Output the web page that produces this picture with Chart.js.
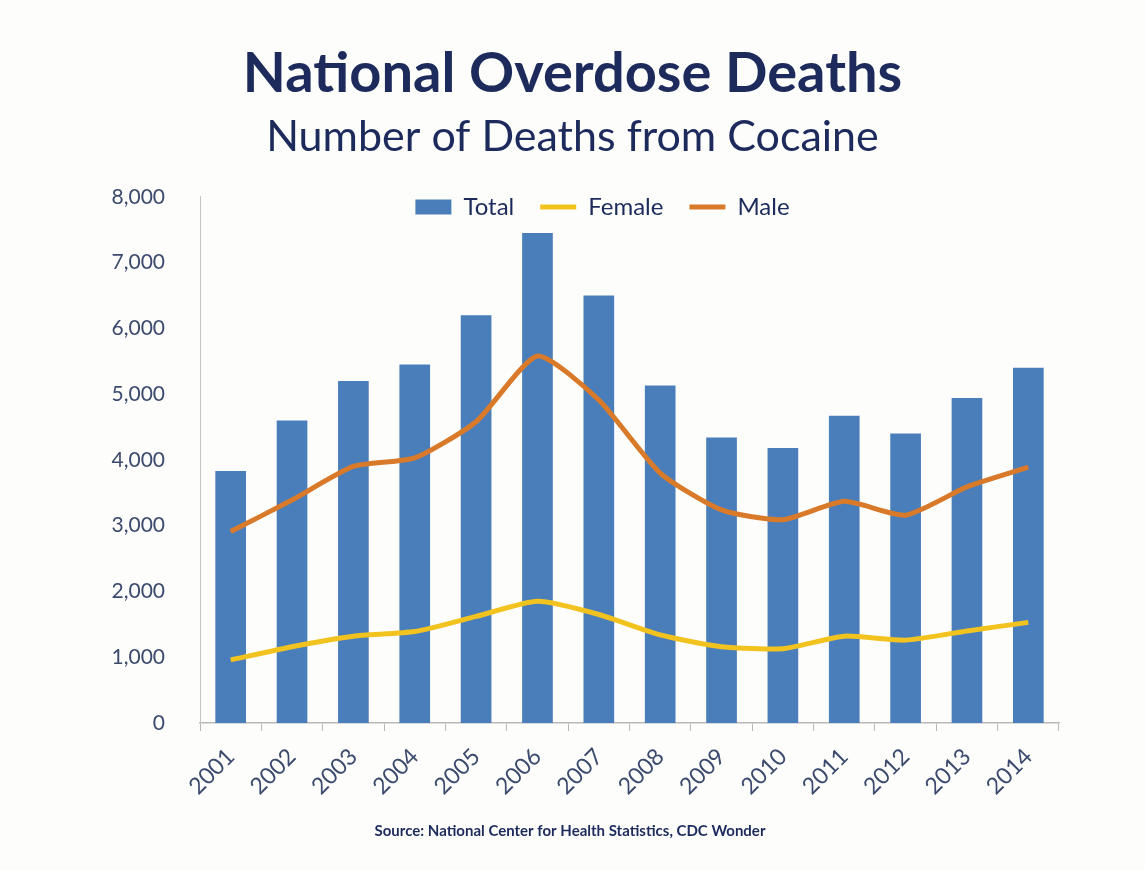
<!DOCTYPE html>
<html>
<head>
<meta charset="utf-8">
<script src="https://cdn.jsdelivr.net/npm/chart.js@4"></script>
<style>
  html, body { margin: 0; padding: 0; background: #fdfefc; }
  #wrap { width: 1145px; height: 870px; position: relative; }
</style>
</head>
<body>
<div id="wrap"><canvas id="chart"></canvas></div>
<script>
// data
const years = ["2001", "2002", "2003", "2004", "2005", "2006", "2007", "2008", "2009", "2010", "2011", "2012", "2013", "2014"];
const total = [3830, 4600, 5200, 5450, 6200, 7450, 6500, 5130, 4340, 4180, 4670, 4400, 4940, 5400];
const female = [960, 1160, 1320, 1390, 1620, 1850, 1650, 1340, 1160, 1130, 1320, 1260, 1400, 1530];
const male = [2910, 3390, 3900, 4030, 4580, 5580, 4910, 3800, 3240, 3090, 3370, 3160, 3590, 3890];
const yTicks = [0, 1000, 2000, 3000, 4000, 5000, 6000, 7000, 8000];
const sourceText = "Source: National Center for Health Statistics, CDC Wonder";

const navy = "#1c2a5c";
const tickColor = "#3c4a6e";

// teks sumber di bawah grafik
const sourcePlugin = {
  id: "sourceNote",
  afterDraw(chart) {
    const c = chart.ctx;
    c.save();
    c.font = "bold 15px Lato";
    c.fillStyle = navy;
    c.textAlign = "center";
    c.textBaseline = "middle";
    c.fillText(sourceText, 570, 831);
    c.restore();
  },
};

// legenda ditaruh di dalam area plot, seperti aslinya
const legendInside = {
  id: "legendInside",
  afterLayout(chart) {
    const lg = chart.legend;
    if (!lg) return;
    const pad = lg.options.labels.padding;
    lg.top = 207 - pad - 12;
    lg.height = 70;
    lg.bottom = lg.top + lg.height;
    lg.left += 30;
    lg.right += 30;
  },
};

const ctx = document.getElementById("chart").getContext("2d");
new Chart(ctx, {
  type: "bar",
  data: {
    labels: years,
    datasets: [
      {
        label: "Total",
        data: total,
        backgroundColor: "#4a7ebb",
        borderWidth: 0,
        barPercentage: 0.5,
        categoryPercentage: 1,
        pointStyle: "rect",
        order: 3,
      },
      {
        type: "line",
        label: "Female",
        data: female,
        borderColor: "#f2c31e",
        backgroundColor: "#f2c31e",
        borderWidth: 5,
        pointRadius: 0,
        tension: 0.2,
        pointStyle: "line",
        order: 2,
      },
      {
        type: "line",
        label: "Male",
        data: male,
        borderColor: "#d97a2a",
        backgroundColor: "#d97a2a",
        borderWidth: 5,
        pointRadius: 0,
        tension: 0.2,
        pointStyle: "line",
        order: 1,
      },
    ],
  },
  options: {
    responsive: true,
    maintainAspectRatio: false,
    animation: false,
    layout: { padding: { top: 40, right: 86, bottom: 0, left: 86 } },
    plugins: {
      title: {
        display: true,
        text: "National Overdose Deaths",
        color: navy,
        font: { family: "Lato", size: 56, weight: "bold" },
        padding: { top: 0, bottom: 4 },
      },
      subtitle: {
        display: true,
        text: "Number of Deaths from Cocaine",
        color: navy,
        font: { family: "Lato", size: 43 },
        padding: { top: 0, bottom: 33 },
      },
      legend: {
        position: "top",
        align: "center",
        maxHeight: 1,
        labels: {
          usePointStyle: true,
          pointStyleWidth: 36,
          boxHeight: 15,
          padding: 26,
          color: navy,
          font: { family: "Lato", size: 24 },
          sort: (a, b) => a.datasetIndex - b.datasetIndex,
        },
      },
      tooltip: { enabled: false },
    },
    scales: {
      x: {
        grid: {
          drawOnChartArea: false,
          drawTicks: true,
          tickLength: 8,
          color: "#b8b8b8",
        },
        border: { color: "#b8b8b8", width: 1.5 },
        ticks: {
          color: tickColor,
          font: { family: "Lato", size: 23 },
          minRotation: 45,
          maxRotation: 45,
          padding: 12,
        },
        afterFit: (scale) => { scale.height = 147; },
      },
      y: {
        min: 0,
        max: 8000,
        grid: { display: false },
        border: { color: "#c4c4c4", dash: [2, 2] },
        afterBuildTicks: (scale) => { scale.ticks = yTicks.map((v) => ({ value: v })); },
        ticks: {
          color: tickColor,
          font: { family: "Lato", size: 21 },
          padding: 27,
          callback: (v) => v.toLocaleString("en-US"),
        },
        afterFit: (scale) => { scale.width = 114; },
      },
    },
  },
  plugins: [sourcePlugin, legendInside],
});
</script>
</body>
</html>
